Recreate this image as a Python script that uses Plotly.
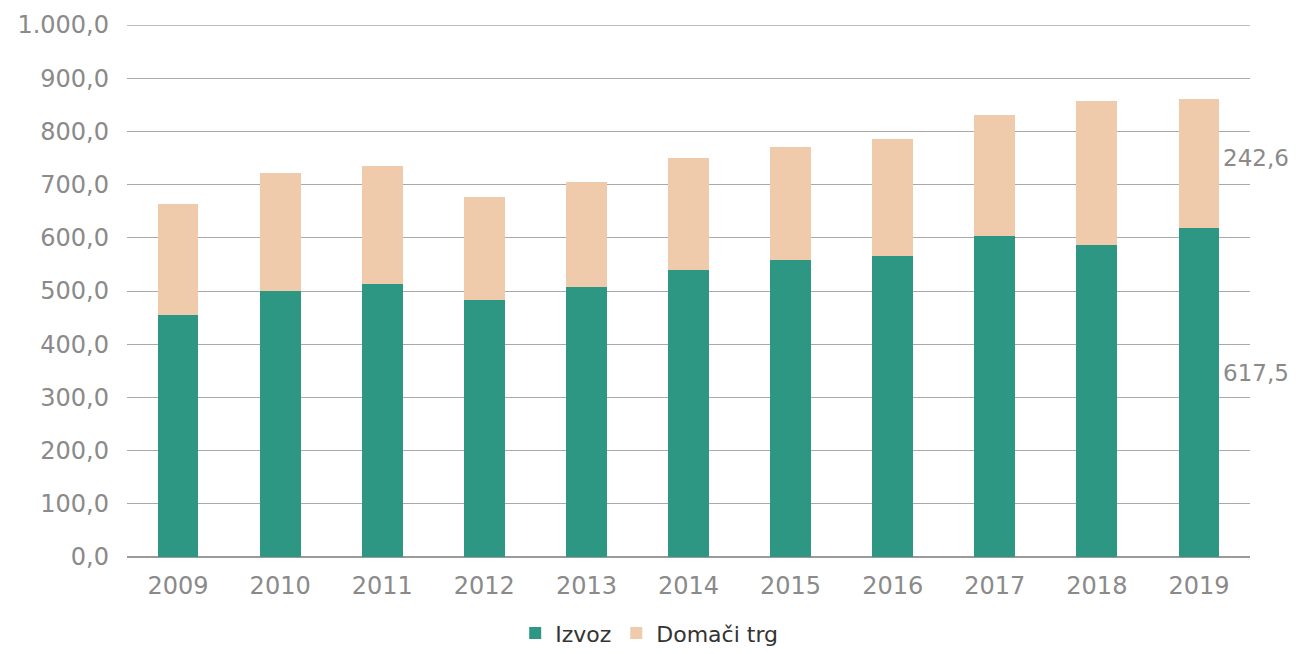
import plotly.graph_objects as go

years = ["2009", "2010", "2011", "2012", "2013", "2014", "2015", "2016", "2017", "2018", "2019"]
izvoz = [455.0, 500.0, 513.0, 483.0, 507.5, 539.5, 558.0, 566.0, 603.0, 586.5, 617.5]
domaci = [208.5, 222.0, 222.0, 194.0, 197.5, 210.5, 213.0, 220.0, 228.0, 270.5, 242.6]
yticks = [0, 100, 200, 300, 400, 500, 600, 700, 800, 900, 1000]

FONT = "DejaVu Sans"
GREY = "#8a8a8a"
GRID = "#a9a9a9"

fig = go.Figure()
fig.add_trace(go.Bar(
    x=years, y=izvoz, name="Izvoz",
    marker=dict(color="#2e9783", line=dict(width=0)),
))
fig.add_trace(go.Bar(
    x=years, y=domaci, name="Domači trg",
    marker=dict(color="#f0cbab", line=dict(width=0)),
))

last = len(years) - 1
fig.add_annotation(x=last, y=izvoz[last] * 0.56, text=f"{izvoz[last]:.1f}".replace(".", ","),
                   xref="x", yref="y", showarrow=False, xanchor="left", xshift=22,
                   font=dict(family=FONT, size=23, color=GREY))
fig.add_annotation(x=last, y=izvoz[last] + domaci[last] * 0.55, text=f"{domaci[last]:.1f}".replace(".", ","),
                   xref="x", yref="y", showarrow=False, xanchor="left", xshift=22,
                   font=dict(family=FONT, size=23, color=GREY))

# top gridline (plotly hides the gridline sitting exactly on the plot edge)
fig.add_shape(type="line", xref="paper", yref="y", x0=0, x1=1, y0=yticks[-1], y1=yticks[-1],
              line=dict(color=GRID, width=1.5), layer="below")

fig.update_layout(
    barmode="stack",
    bargap=0.6,
    width=1283, height=638,
    margin=dict(l=119, r=41, t=17, b=89, autoexpand=False),
    plot_bgcolor="white", paper_bgcolor="white",
    separators=",.",
    font=dict(family=FONT, color=GREY),
    showlegend=True,
    legend=dict(orientation="h", x=0.465, xanchor="center",
                yref="container", y=0.02, yanchor="middle",
                font=dict(family=FONT, size=22, color="#333333"), traceorder="normal",
                itemwidth=30),
)
fig.update_xaxes(
    type="category", range=[-0.5, len(years) - 0.5], automargin=False,
    showgrid=False, showline=False, ticks="", ticklabelstandoff=12,
    tickfont=dict(family=FONT, size=24, color=GREY),
)
fig.update_yaxes(
    range=[0, 1000], tickvals=yticks, tickformat=",.1f", automargin=False,
    showgrid=True, gridcolor=GRID, gridwidth=1,
    zeroline=True, zerolinecolor="#9a9a9a", zerolinewidth=1.5,
    showline=False, ticks="", ticklabelstandoff=17,
    tickfont=dict(family=FONT, size=24, color=GREY),
)

fig.write_html("out.html")
